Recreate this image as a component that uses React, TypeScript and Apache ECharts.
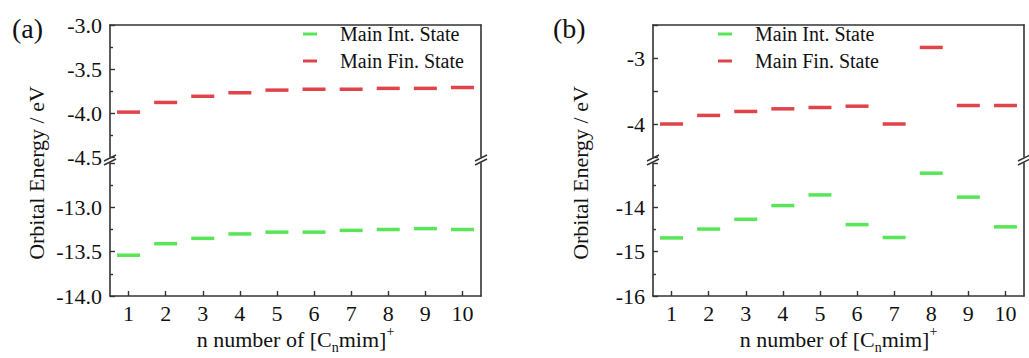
import React, { useEffect, useRef } from "react";
import * as echarts from "echarts";

const categories = ["1", "2", "3", "4", "5", "6", "7", "8", "9", "10"];
// Panel (a)
const intStateA = [-13.54, -13.41, -13.35, -13.3, -13.28, -13.28, -13.26, -13.25, -13.24, -13.25];
const finStateA = [-3.99, -3.88, -3.81, -3.77, -3.74, -3.73, -3.73, -3.72, -3.72, -3.71];
// Panel (b)
const intStateB = [-14.69, -14.49, -14.27, -13.96, -13.72, -14.39, -14.68, -13.23, -13.77, -14.44];
const finStateB = [-4.0, -3.87, -3.81, -3.77, -3.75, -3.73, -4.0, -2.84, -3.72, -3.72];

const seriesNames = ["Main Int. State", "Main Fin. State"];
const panelLabels = ["(a)", "(b)"];
const yTitle = "Orbital Energy / eV";

const FONT = "Liberation Serif, Times New Roman, serif";
const AXIS_COLOR = "#333";
const RED = "#d8141c";
const GREEN = "#2ee02e";

export default function App() {
  const ref = useRef<HTMLDivElement>(null);
  useEffect(() => {
    if (!ref.current) return;
    const chart = echarts.init(ref.current, undefined, { renderer: "svg" });

    const G = [
      { left: 110, top: 25, width: 371, height: 132 },
      { left: 110, top: 163, width: 371, height: 133 },
      { left: 653, top: 25, width: 371, height: 132 },
      { left: 653, top: 163, width: 371, height: 133 },
    ];

    const axisLine = { show: true, lineStyle: { color: AXIS_COLOR, width: 1.6 } };
    const labelStyle = { fontFamily: FONT, fontSize: 22, color: "#111" };

    const xName = "{t|n number of [C}{s|n}{t|mim]}{p|+}";
    const xNameStyle = {
      fontFamily: FONT,
      color: "#111",
      rich: {
        t: { fontFamily: FONT, fontSize: 22, color: "#111", lineHeight: 30 },
        s: { fontFamily: FONT, fontSize: 14, color: "#111", lineHeight: 14, verticalAlign: "bottom" },
        p: { fontFamily: FONT, fontSize: 14, color: "#111", lineHeight: 14, verticalAlign: "top" },
      },
    };

    const topX = (gi: number) => ({
      type: "category",
      gridIndex: gi,
      data: categories,
      position: "top",
      axisLine,
      axisTick: { show: false },
      axisLabel: { show: false },
      splitLine: { show: false },
    });
    const bottomX = (gi: number) => ({
      type: "category",
      gridIndex: gi,
      data: categories,
      position: "bottom",
      axisLine,
      axisTick: { show: true, inside: true, alignWithLabel: true, length: 5, lineStyle: { color: AXIS_COLOR, width: 1.4 } },
      axisLabel: { ...labelStyle, margin: 6 },
      splitLine: { show: false },
      name: xName,
      nameLocation: "middle",
      nameGap: 25,
      nameTextStyle: xNameStyle,
    });

    const leftY = (gi: number, min: number, max: number, interval: number, fmt: (v: number) => string, minor: boolean) => ({
      type: "value",
      gridIndex: gi,
      position: "left",
      min,
      max,
      interval,
      axisLine,
      axisTick: { show: true, inside: true, length: 5, lineStyle: { color: AXIS_COLOR, width: 1.4 } },
      minorTick: { show: minor, splitNumber: 2, length: 3, lineStyle: { color: AXIS_COLOR, width: 1.4 } },
      axisLabel: { ...labelStyle, margin: 8, formatter: fmt },
      splitLine: { show: false },
      minorSplitLine: { show: false },
    });
    const rightY = (gi: number, min: number, max: number) => ({
      type: "value",
      gridIndex: gi,
      position: "right",
      min,
      max,
      axisLine,
      axisTick: { show: false },
      axisLabel: { show: false },
      splitLine: { show: false },
    });

    const fmt1 = (v: number) => (Math.abs(v + 12.5) < 1e-6 ? "" : v.toFixed(1));
    const fmtInt = (v: number) =>
      Math.abs(v - Math.round(v)) < 1e-6 && Math.abs(v + 13) > 1e-6 ? String(Math.round(v)) : "";

    const dash = (name: string, xi: number, yi: number, data: number[], color: string) => ({
      type: "scatter",
      name,
      xAxisIndex: xi,
      yAxisIndex: yi,
      data,
      symbol: "rect",
      symbolSize: [23, 3.5],
      itemStyle: { color },
      z: 5,
    });

    const breakMarks: any[] = [];
    [110, 481, 653, 1024].forEach((x) => {
      [158, 162].forEach((y) => {
        breakMarks.push({
          type: "line",
          shape: { x1: x - 6, y1: y + 3, x2: x + 6, y2: y - 3 },
          style: { stroke: AXIS_COLOR, lineWidth: 1.4 },
          silent: true,
        });
      });
    });

    const legendBase = {
      orient: "vertical",
      top: 24,
      padding: 0,
      itemWidth: 14,
      itemHeight: 3,
      itemGap: 7,
      icon: "rect",
      data: seriesNames,
      textStyle: { fontFamily: FONT, fontSize: 20, color: "#111", lineHeight: 20, padding: [0, 0, 0, 18] },
      selectedMode: false,
    };

    const option: any = {
      animation: false,
      backgroundColor: "#fff",
      textStyle: { fontFamily: FONT },
      grid: G,
      legend: [
        { ...legendBase, left: 303 },
        { ...legendBase, left: 718 },
      ],
      xAxis: [topX(0), bottomX(1), topX(2), bottomX(3)],
      yAxis: [
        leftY(0, -4.5, -3.0, 0.5, (v) => v.toFixed(1), true),
        rightY(0, -4.5, -3.0),
        leftY(1, -14, -12.5, 0.5, fmt1, true),
        rightY(1, -14, -12.5),
        leftY(2, -4.5, -2.5, 0.5, fmtInt, false),
        rightY(2, -4.5, -2.5),
        leftY(3, -16, -13, 1, fmtInt, true),
        rightY(3, -16, -13),
      ],
      series: [
        dash(seriesNames[0], 1, 2, intStateA, GREEN),
        dash(seriesNames[1], 0, 0, finStateA, RED),
        dash(seriesNames[0], 3, 6, intStateB, GREEN),
        dash(seriesNames[1], 2, 4, finStateB, RED),
      ],
      graphic: [
        {
          type: "text",
          left: 12,
          top: 14,
          style: { text: panelLabels[0], fontFamily: FONT, fontSize: 28, fill: "#111" },
        },
        {
          type: "text",
          left: 553,
          top: 14,
          style: { text: panelLabels[1], fontFamily: FONT, fontSize: 28, fill: "#111" },
        },
        {
          type: "text",
          x: 36,
          y: 173,
          rotation: Math.PI / 2,
          style: { text: yTitle, fontFamily: FONT, fontSize: 22, fill: "#111", align: "center", verticalAlign: "middle" },
        },
        {
          type: "text",
          x: 580,
          y: 173,
          rotation: Math.PI / 2,
          style: { text: yTitle, fontFamily: FONT, fontSize: 22, fill: "#111", align: "center", verticalAlign: "middle" },
        },
        ...breakMarks,
      ],
    };

    chart.setOption(option);
    return () => chart.dispose();
  }, []);

  return (
    <div
      ref={ref}
      style={{ position: "fixed", left: 0, top: 0, width: 1029, height: 358, background: "#fff" }}
    />
  );
}
